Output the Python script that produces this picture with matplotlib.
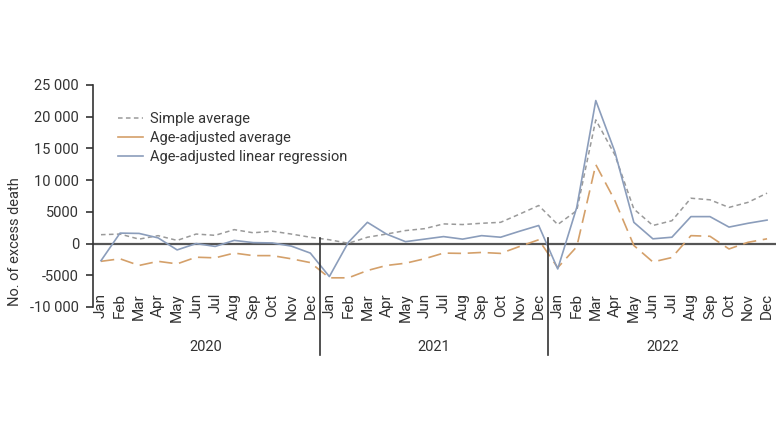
import matplotlib
matplotlib.use("Agg")
import matplotlib.pyplot as plt
import matplotlib.transforms as mtransforms

plt.rcParams['font.family'] = ['Roboto', 'DejaVu Sans']

# -------------------------
# data
# -------------------------

months = ["Jan", "Feb", "Mar", "Apr", "May", "Jun",
          "Jul", "Aug", "Sep", "Oct", "Nov", "Dec"] * 3
years = ["2020", "2021", "2022"]

simple_avg = [1400, 1500, 700, 1250, 500, 1500, 1300, 2200, 1700, 1950, 1500, 1000,
              600, 50, 1000, 1500, 2050, 2350, 3100, 3000, 3200, 3350, 4650, 6000,
              3000, 5200, 19500, 14000, 5450, 2850, 3600, 7150, 6900, 5700, 6500, 7950]

age_avg = [-2800, -2400, -3450, -2800, -3200, -2150, -2250, -1500, -1900, -1900, -2400, -3000,
           -5400, -5400, -4250, -3450, -3100, -2400, -1500, -1550, -1400, -1550, -450, 600,
           -3800, -500, 12450, 6800, -300, -2900, -2200, 1250, 1150, -850, 200, 750]

age_lr = [-2700, 1650, 1600, 900, -1000, 0, -450, 500, 150, 100, -400, -1500,
          -5200, 200, 3350, 1500, 300, 700, 1100, 700, 1250, 1000, 1950, 2850,
          -4000, 5700, 22550, 14500, 3350, 750, 1000, 4250, 4250, 2600, 3200, 3700]

yticks = [-10000, -5000, 0, 5000, 10000, 15000, 20000, 25000]
ytick_labels = ["-10 000", "-5000", "0", "5000", "10 000", "15 000", "20 000", "25 000"]

# -------------------------
# plot
# -------------------------

fig = plt.figure(figsize=(7.8, 4.38), dpi=100)
ax = fig.add_axes([93 / 780, 1 - 307 / 438, (776 - 93) / 780, (307 - 85) / 438])

x = list(range(len(months)))
txt = "#333333"

ax.axhline(0, color="#555555", lw=1.6, zorder=1)

ax.plot(x, simple_avg, color="#9a9a9a", lw=1.1, dashes=(3, 2.2), label="Simple average", zorder=3)
ax.plot(x, age_avg, color="#d4a06a", lw=1.2, dashes=(8, 4), label="Age-adjusted average", zorder=3)
ax.plot(x, age_lr, color="#8b9dbb", lw=1.2, label="Age-adjusted linear regression", zorder=4)

ax.set_xlim(-0.42, 35.47)
ax.set_ylim(-10000, 25000)

ax.set_yticks(yticks)
ax.set_yticklabels(ytick_labels)
ax.set_xticks(x)
ax.set_xticklabels(months, rotation=90)

ax.tick_params(axis="x", length=0, pad=-10, labelsize=11, labelcolor=txt)
ax.tick_params(axis="y", length=5, width=1.2, color="#333333", labelsize=10.5,
               labelcolor=txt, pad=5)

for s in ["top", "right", "bottom"]:
    ax.spines[s].set_visible(False)
ax.spines["left"].set_color("#333333")
ax.spines["left"].set_linewidth(1.2)

# year dividers and labels
trans = mtransforms.blended_transform_factory(ax.transData, ax.transAxes)
for xd in [11.5, 23.5]:
    ax.plot([xd, xd], [0.31, -0.216], transform=trans, color="#333333",
            lw=1.2, clip_on=False, zorder=5)
for i, yr in enumerate(years):
    ax.text(5.5 + 12 * i, -0.18, yr, transform=trans, ha="center", va="center",
            fontsize=10.5, color=txt)

fig.text(15 / 780, 196 / 438, "No. of excess death", rotation=90, ha="center",
         va="center", fontsize=10.5, color=txt)

leg = ax.legend(loc="upper left", bbox_to_anchor=(118 / 780, 1 - 112 / 438),
                bbox_transform=fig.transFigure, frameon=False, fontsize=10.5,
                handlelength=1.7, handletextpad=0.5, labelspacing=0.33,
                borderpad=0, borderaxespad=0, labelcolor=txt)
leg.get_lines()[1].set_linestyle("-")

fig.savefig("out.png", dpi=100)
